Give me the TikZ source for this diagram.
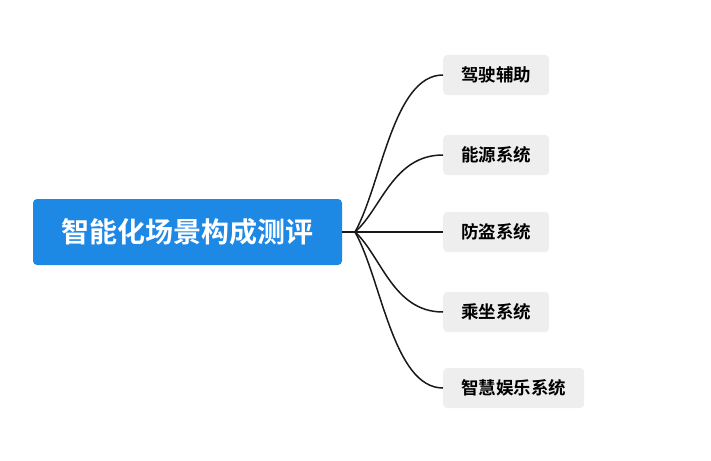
\documentclass[tikz,border=0pt]{standalone}
\usepackage{fontspec}
\usetikzlibrary{calc}
\newfontfamily\cjk{Noto Sans CJK SC}[BoldFont={Noto Sans CJK SC Bold}]
\definecolor{rootblue}{HTML}{1E88E5}
\definecolor{leafgray}{HTML}{EEEEEE}
\begin{document}
\begin{tikzpicture}[x=1pt,y=-1pt,
    rootbox/.style={fill=rootblue,rounded corners=4pt,text=white,font=\cjk\bfseries\fontsize{28}{32}\selectfont,minimum width=309pt,minimum height=66pt,inner sep=0pt},
    leafbox/.style={fill=leafgray,rounded corners=4pt,font=\cjk\bfseries\fontsize{17.5}{20}\selectfont,minimum height=40pt,inner xsep=18pt,anchor=west},
    branch/.style={draw=black!90,line width=1.5pt}]
\useasboundingbox (0,0) rectangle (711,460);
\node [rootbox] (root) at (187.5,232) {智能化场景构成测评};
\coordinate (hub) at (355,232);
\node [leafbox] (a) at (443,75) {驾驶辅助};
\node [leafbox] (b) at (443,155) {能源系统};
\node [leafbox] (c) at (443,232) {防盗系统};
\node [leafbox] (d) at (443,312) {乘坐系统};
\node [leafbox] (e) at (443,388) {智慧娱乐系统};
\draw [branch] (root.east) -- (hub);
\foreach \leaf in {a,b,c,d,e}
    \draw [branch] (hub) .. controls ($(hub)!0.3!(\leaf.west)$) and ([xshift=-50pt]\leaf.west) .. (\leaf.west);
\end{tikzpicture}
\end{document}
